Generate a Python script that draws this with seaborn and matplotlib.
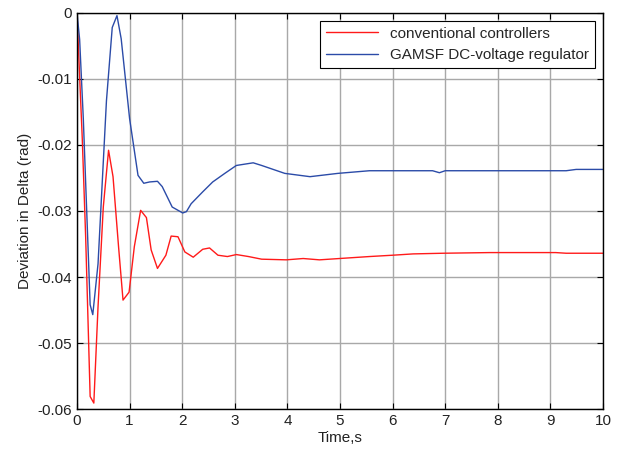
import matplotlib
matplotlib.use("Agg")
import matplotlib.pyplot as plt
import seaborn as sns
import pandas as pd

t_conv = [0, 0.06, 0.10, 0.165, 0.25, 0.32, 0.40, 0.50, 0.60, 0.685, 0.79, 0.875, 0.99, 1.09, 1.21,
          1.32, 1.41, 1.53, 1.69, 1.79, 1.92, 2.05, 2.21, 2.39, 2.52, 2.68, 2.86, 3.03, 3.26,
          3.51, 3.98, 4.3, 4.61, 4.99, 5.56, 6.0, 6.39, 6.96, 7.85, 9.1, 9.3, 10.0]
v_conv = [0, -0.0115, -0.019, -0.034, -0.0581, -0.0591, -0.0445, -0.0294, -0.0208, -0.0248,
          -0.0354, -0.0435, -0.0423, -0.0354, -0.0299, -0.0310, -0.0359, -0.0387, -0.0367,
          -0.0338, -0.0339, -0.0362, -0.0370, -0.0358, -0.0356, -0.0367, -0.0369, -0.0366,
          -0.0369, -0.0373, -0.0374, -0.0372, -0.0374, -0.0372, -0.0369, -0.0367, -0.0365,
          -0.0364, -0.0363, -0.0363, -0.0364, -0.0364]

t_gamsf = [0, 0.05, 0.12, 0.25, 0.30, 0.40, 0.56, 0.67, 0.76, 0.84, 1.0, 1.16, 1.27, 1.38,
           1.53, 1.62, 1.81, 2.01, 2.08, 2.17, 2.39, 2.58, 2.81, 3.03, 3.35, 3.51, 3.95, 4.43,
           4.96, 5.56, 6.76, 6.89, 7.0, 9.3, 9.49, 10.0]
v_gamsf = [0, -0.004, -0.016, -0.0442, -0.0457, -0.0380, -0.0133, -0.0022, -0.0004, -0.0039,
           -0.0160, -0.0246, -0.0258, -0.0256, -0.0255, -0.0263, -0.0294, -0.0303, -0.0301,
           -0.0289, -0.0271, -0.0256, -0.0243, -0.0231, -0.0227, -0.0231, -0.0243, -0.0248,
           -0.0243, -0.0239, -0.0239, -0.0242, -0.0239, -0.0239, -0.0237, -0.0237]

labels = ["conventional controllers", "GAMSF DC-voltage regulator"]
x_ticks = list(range(0, 11))
y_ticks = [0, -0.01, -0.02, -0.03, -0.04, -0.05, -0.06]
y_tick_labels = ["0", "-0.01", "-0.02", "-0.03", "-0.04", "-0.05", "-0.06"]

df = pd.concat([
    pd.DataFrame({"t": t_conv, "v": v_conv, "series": labels[0]}),
    pd.DataFrame({"t": t_gamsf, "v": v_gamsf, "series": labels[1]}),
])

sns.set_theme(style="white")
plt.rcParams["font.family"] = ["Liberation Sans", "DejaVu Sans"]

fig = plt.figure(figsize=(6.27, 4.54), dpi=100)
ax = fig.add_axes([0.1228, 0.0991, 0.8389, 0.8723])
sns.lineplot(data=df, x="t", y="v", hue="series", palette=["#ff1a1a", "#2b4ba8"],
             linewidth=1.0, ax=ax, sort=False, estimator=None)

ax.set_xlim(0, 10)
ax.set_ylim(-0.06, 0)
ax.set_xticks(x_ticks)
ax.set_xticklabels([str(x) for x in x_ticks])
ax.set_yticks(y_ticks)
ax.set_yticklabels(y_tick_labels)
ax.grid(True, color="#a8a8a8", linewidth=1.0)
ax.tick_params(direction="in", length=4, width=0.8, colors="black", labelsize=11,
               top=True, right=True, bottom=True, left=True, labelcolor="#222222")
for s in ax.spines.values():
    s.set_color("black")
    s.set_linewidth(1.0)
ax.set_xlabel("Time,s", fontsize=11, color="#222222", labelpad=2)
ax.set_ylabel("Deviation in Delta (rad)", fontsize=11, color="#222222", labelpad=4)

leg = ax.legend(loc="upper right", fontsize=11, frameon=True, fancybox=False,
                edgecolor="black", framealpha=1, borderaxespad=0.5, handlelength=3.4)
leg.set_title(None)
leg.get_frame().set_linewidth(0.8)

fig.savefig("out.png", dpi=100)
